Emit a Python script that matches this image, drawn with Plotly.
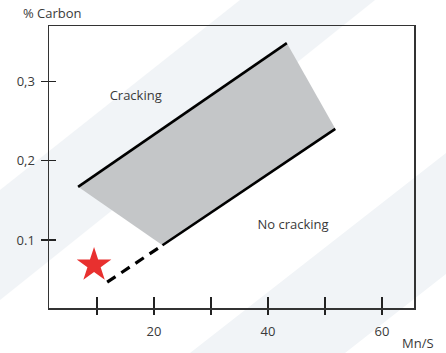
import plotly.graph_objects as go

# ---- data ----
zone_x = [6.7, 43.3, 51.8, 21.5]          # shaded transition zone
zone_y = [0.167, 0.348, 0.240, 0.0935]

upper_x = [6.7, 43.3]                     # upper boundary line
upper_y = [0.167, 0.348]

lower_x = [21.5, 51.8]                    # lower boundary line
lower_y = [0.0935, 0.240]

ext_x = [11.8, 21.5]                      # dashed extrapolation
ext_y = [0.047, 0.0935]

star_x = [9.5]                            # marked point
star_y = [0.0685]

label_text = ["Cracking", "No cracking"]
label_x = [16.8, 44.4]
label_y = [0.281, 0.1175]

x_tickvals = [10, 20, 30, 40, 50, 60]
x_ticktext = ["", "20", "", "40", "", "60"]
y_tickvals = [0.1, 0.2, 0.3]
y_ticktext = ["0.1", "0,2", "0,3"]

X_RANGE = [1.6, 65.6]
Y_RANGE = [0.0145, 0.3695]

W, H = 446, 353
L, R, T, B = 49, 32, 26, 45
PW, PH = W - L - R, H - T - B

FONT = "Open Sans"
TXT = "#3a3a3a"

fig = go.Figure()

fig.add_trace(go.Scatter(x=zone_x, y=zone_y, fill="toself", mode="none",
                         fillcolor="#c4c6c8", hoverinfo="skip", showlegend=False))
fig.add_trace(go.Scatter(x=upper_x, y=upper_y, mode="lines",
                         line=dict(color="#000000", width=2.6), showlegend=False))
fig.add_trace(go.Scatter(x=lower_x, y=lower_y, mode="lines",
                         line=dict(color="#000000", width=2.6), showlegend=False))
fig.add_trace(go.Scatter(x=ext_x, y=ext_y, mode="lines",
                         line=dict(color="#000000", width=3.2, dash="10px,7px"),
                         showlegend=False))
fig.add_trace(go.Scatter(x=star_x, y=star_y, mode="markers",
                         marker=dict(symbol="star", size=26, color="#e8302f",
                                     line=dict(width=0)), showlegend=False))
fig.add_trace(go.Scatter(x=label_x, y=label_y, mode="text", text=label_text,
                         textfont=dict(family=FONT, size=13, color=TXT),
                         showlegend=False))
# invisible trace to materialise the overlay axes (inside half of crossing ticks)
fig.add_trace(go.Scatter(x=[X_RANGE[0]], y=[Y_RANGE[0]], xaxis="x2", yaxis="y2",
                         mode="markers", marker=dict(opacity=0), hoverinfo="skip",
                         showlegend=False))

# decorative light background bands (pixel geometry -> paper coords)
def px2paper(pts):
    return [((px - L) / PW, (H - B - py) / PH) for px, py in pts]

def path(pts):
    p = px2paper(pts)
    return "M " + " L ".join(f"{a:.4f},{b:.4f}" for a, b in p) + " Z"

bands = [
    [(0, 190), (240, 0), (375, 0), (0, 300)],
    [(190, 353), (345, 353), (446, 274), (446, 153)],
]
shapes = [dict(type="path", path=path(b), xref="paper", yref="paper",
               fillcolor="#f1f4f7", line=dict(width=0), layer="below")
          for b in bands]

axis_common = dict(showgrid=False, zeroline=False)
fig.update_layout(
    width=W, height=H,
    margin=dict(l=L, r=R, t=T, b=B),
    paper_bgcolor="white", plot_bgcolor="rgba(0,0,0,0)",
    font=dict(family=FONT, size=13, color=TXT),
    shapes=shapes,
    hovermode=False,
    xaxis=dict(range=X_RANGE, tickvals=x_tickvals, ticktext=x_ticktext,
               ticks="outside", ticklen=5, tickwidth=1.3, tickcolor="#222",
               showline=True, linecolor="#333", linewidth=1.5, mirror=True,
               ticklabelstandoff=6,
               tickfont=dict(family=FONT, size=13, color=TXT), **axis_common),
    yaxis=dict(range=Y_RANGE, tickvals=y_tickvals, ticktext=y_ticktext,
               ticks="outside", ticklen=7, tickwidth=1.3, tickcolor="#222",
               showline=True, linecolor="#333", linewidth=1.5, mirror=True,
               ticklabelstandoff=3,
               tickfont=dict(family=FONT, size=13, color=TXT), **axis_common),
    xaxis2=dict(range=X_RANGE, tickvals=x_tickvals, showticklabels=False,
                overlaying="x", anchor="y2", side="bottom",
                ticks="inside", ticklen=11, tickwidth=1.3, tickcolor="#222",
                showline=False, **axis_common),
    yaxis2=dict(range=Y_RANGE, tickvals=y_tickvals, showticklabels=False,
                overlaying="y", anchor="x2", side="left",
                ticks="inside", ticklen=7, tickwidth=1.3, tickcolor="#222",
                showline=False, **axis_common),
    annotations=[
        dict(text="% Carbon", xref="paper", yref="paper",
             x=(21 - L) / PW, y=(H - B - 13) / PH, xanchor="left", yanchor="middle",
             showarrow=False, font=dict(family=FONT, size=13, color=TXT)),
        dict(text="Mn/S", xref="paper", yref="paper",
             x=(436 - L) / PW, y=(H - B - 343) / PH, xanchor="right", yanchor="middle",
             showarrow=False, font=dict(family=FONT, size=13, color=TXT)),
    ],
)

fig.write_html("out.html",
               config={"displayModeBar": False, "staticPlot": True},
               post_script="document.body.style.margin='0';"
                           "document.documentElement.style.overflow='hidden';")
